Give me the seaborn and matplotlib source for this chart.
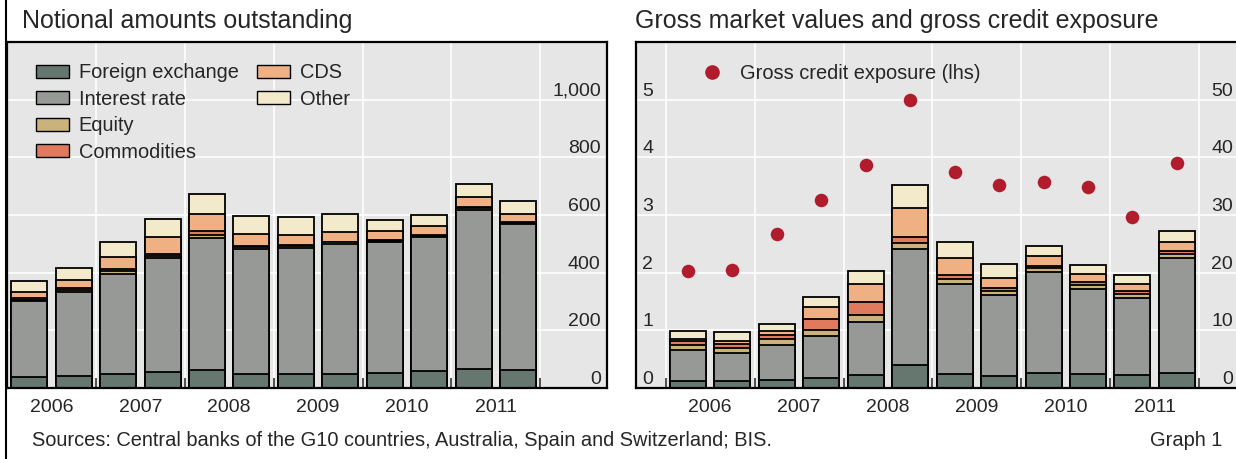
import numpy as np
import pandas as pd
import seaborn as sns
import matplotlib.pyplot as plt
from matplotlib.patches import Patch
from matplotlib.lines import Line2D

# half-year observations, end-June and end-December
periods = ['Jun 2006', 'Dec 2006', 'Jun 2007', 'Dec 2007', 'Jun 2008', 'Dec 2008',
           'Jun 2009', 'Dec 2009', 'Jun 2010', 'Dec 2010', 'Jun 2011', 'Dec 2011']
years = ['2006', '2007', '2008', '2009', '2010', '2011']
risk_names = ['Foreign exchange', 'Interest rate', 'Equity', 'Commodities', 'CDS', 'Other']

# notional amounts outstanding, USD trn
notional_fx = [38.1, 40.3, 48.6, 56.2, 63.0, 50.0, 48.7, 49.2, 53.2, 57.8, 64.7, 63.3]
notional_ir = [262.0, 291.6, 347.3, 393.1, 458.3, 432.7, 437.2, 449.9, 451.8, 465.3, 553.9, 504.1]
notional_eq = [6.8, 7.5, 8.6, 8.5, 10.2, 6.5, 6.6, 5.9, 6.3, 5.6, 6.8, 6.0]
notional_com = [6.4, 7.1, 7.6, 8.5, 13.2, 4.4, 3.6, 2.9, 2.9, 2.9, 3.2, 3.1]
notional_cds = [20.4, 28.7, 42.6, 58.2, 57.4, 41.9, 36.0, 32.7, 30.3, 29.9, 32.4, 28.6]
notional_oth = [36.6, 39.7, 53.0, 62.0, 70.0, 62.7, 61.0, 63.3, 38.3, 39.5, 45.9, 42.6]

# gross market values, USD trn (rhs)
gmv_fx = [1.14, 1.27, 1.35, 1.81, 2.26, 4.0, 2.47, 2.07, 2.52, 2.48, 2.34, 2.56]
gmv_ir = [5.45, 4.83, 6.06, 7.18, 9.26, 20.1, 15.48, 14.02, 17.53, 14.75, 13.24, 20.0]
gmv_eq = [0.88, 0.85, 1.12, 1.14, 1.15, 1.1, 0.88, 0.71, 0.71, 0.65, 0.71, 0.68]
gmv_com = [0.67, 0.67, 0.64, 1.90, 2.21, 1.0, 0.69, 0.55, 0.46, 0.53, 0.47, 0.49]
gmv_cds = [0.29, 0.47, 0.72, 2.02, 3.19, 5.0, 2.99, 1.80, 1.67, 1.35, 1.35, 1.59]
gmv_oth = [1.53, 1.61, 1.26, 1.79, 2.28, 4.0, 2.81, 2.40, 1.79, 1.54, 1.41, 1.98]

# gross credit exposure, USD trn (lhs)
credit_exposure = [2.03, 2.04, 2.67, 3.26, 3.86, 5.0, 3.74, 3.52, 3.58, 3.48, 2.97, 3.91]

colors = ['#667770', '#979996', '#cab37b', '#df7a5e', '#efb083', '#f3eacb']
dot_color = '#b01c2c'

sns.set_style('darkgrid', {'axes.facecolor': '#e6e6e6', 'grid.color': 'white',
                           'axes.edgecolor': 'black'})
plt.rcParams['font.family'] = ['Liberation Sans', 'DejaVu Sans']

fig = plt.figure(figsize=(12.36, 4.59), dpi=100)
ax1 = fig.add_axes([7 / 1236, 1 - 388 / 459, 600 / 1236, 346 / 459])
ax2 = fig.add_axes([636 / 1236, 1 - 388 / 459, 600 / 1236, 346 / 459])


def stacked_bars(ax, layers):
    cum = np.cumsum(np.array(layers), axis=0)
    # paint cumulative totals from the top layer down
    for k in range(len(layers) - 1, -1, -1):
        sns.barplot(x=periods, y=cum[k], color=colors[k], saturation=1, width=0.81,
                    edgecolor='black', linewidth=1.3, errorbar=None, ax=ax)


def style_x(ax, xlim):
    ax.set_xticks(np.arange(-0.5, len(periods), 2))
    ax.set_xticklabels([])
    ax.set_xticks(np.arange(0.5, len(periods), 2), minor=True)
    ax.set_xticklabels(years, minor=True)
    ax.tick_params(axis='x', which='major', bottom=True, direction='in', length=7,
                   width=1.2, color='#333333')
    ax.tick_params(axis='x', which='minor', bottom=True, length=0, pad=8, labelsize=14)
    ax.xaxis.grid(True, which='major', color='white', lw=1.2)
    ax.xaxis.grid(False, which='minor')
    ax.set_xlim(*xlim)
    ax.set_xlabel('')
    ax.set_axisbelow(True)


def inside_labels(ax, ha):
    for lab in ax.get_yticklabels():
        lab.set_horizontalalignment(ha)
        lab.set_verticalalignment('bottom')


# left panel: notional amounts
stacked_bars(ax1, [notional_fx, notional_ir, notional_eq, notional_com, notional_cds, notional_oth])
style_x(ax1, (-0.5, 13.0))
ax1.set_ylim(0, 1200)
ax1.set_yticks(range(0, 1001, 200))
ax1.set_yticklabels([f'{v:,}' for v in range(0, 1001, 200)])
ax1.yaxis.tick_right()
ax1.tick_params(axis='y', length=0, pad=-4.5, labelsize=14)
ax1.yaxis.grid(True, color='white', lw=1.2)
inside_labels(ax1, 'right')
ax1.set_ylabel('')
for s in ax1.spines.values():
    s.set_color('black')
    s.set_linewidth(1.6)

handles = [Patch(facecolor=c, edgecolor='black', linewidth=1.0) for c in colors]
blank = Patch(facecolor='none', edgecolor='none')
leg_h = handles[:4] + handles[4:] + [blank, blank]
leg_l = risk_names[:4] + risk_names[4:] + ['', '']
ax1.legend(leg_h, leg_l, ncol=2, loc='upper left', bbox_to_anchor=(0.048, 0.938),
           frameon=False, fontsize=14.4, handlelength=1.65, handleheight=0.6,
           handletextpad=0.5, columnspacing=0.9, labelspacing=0.37,
           borderaxespad=0, borderpad=0)

# right panel: gross market values (rhs) and gross credit exposure (lhs)
stacked_bars(ax2, [gmv_fx, gmv_ir, gmv_eq, gmv_com, gmv_cds, gmv_oth])
ax3 = ax2.twinx()
sns.scatterplot(x=np.arange(len(periods)), y=credit_exposure, color=dot_color, s=95,
                linewidth=0, ax=ax3, zorder=5)

ax2.set_ylim(0, 60)
ax2.set_yticks(range(0, 51, 10))
ax2.yaxis.tick_right()
ax2.tick_params(axis='y', length=0, pad=-2, labelsize=14)
ax2.yaxis.grid(True, color='white', lw=1.2)
inside_labels(ax2, 'right')
ax2.set_ylabel('')

ax3.set_ylim(0, 6)
ax3.set_yticks(range(0, 6))
ax3.yaxis.tick_left()
ax3.tick_params(axis='y', length=0, pad=-4.5, labelsize=14)
ax3.grid(False)
inside_labels(ax3, 'left')
ax3.set_ylabel('')
for s in ax3.spines.values():
    s.set_visible(False)
style_x(ax2, (-1.17, 12.33))
for s in ax2.spines.values():
    s.set_color('black')
    s.set_linewidth(1.6)
ax2.spines['right'].set_visible(False)

dot_handle = Line2D([], [], marker='o', linestyle='none', color=dot_color, markersize=9.5)
ax3.legend([dot_handle], ['Gross credit exposure (lhs)'], loc='upper left',
           bbox_to_anchor=(0.11, 0.935), frameon=False, fontsize=14.4, handlelength=1.0,
           handletextpad=0.9, borderaxespad=0, borderpad=0)

# titles, footer and frame line
fig.text(22 / 1236, 1 - 21 / 459, 'Notional amounts outstanding', fontsize=18, va='center')
fig.text(635 / 1236, 1 - 21 / 459, 'Gross market values and gross credit exposure',
         fontsize=18, va='center')
fig.text(32 / 1236, 1 - 440 / 459,
         'Sources: Central banks of the G10 countries, Australia, Spain and Switzerland; BIS.',
         fontsize=14.4, va='center')
fig.text(1222 / 1236, 1 - 440 / 459, 'Graph 1', fontsize=14.4, va='center', ha='right')
fig.add_artist(Line2D([6 / 1236, 6 / 1236], [0, 1], transform=fig.transFigure,
                      color='black', lw=1.5))

fig.savefig('out.png', dpi=100)
